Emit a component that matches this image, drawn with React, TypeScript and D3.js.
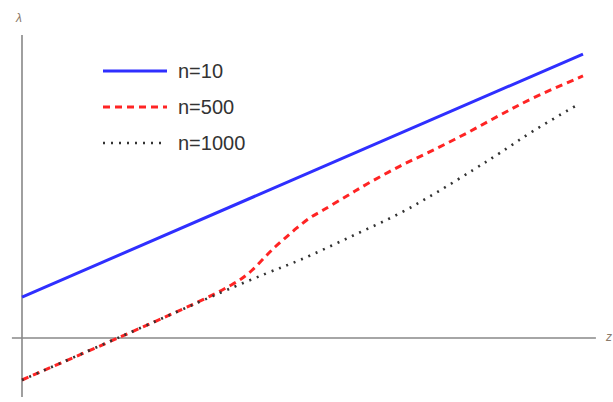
import React from "react";
import * as d3 from "d3";

const W = 613;
const H = 402;

// z values and λ values for each series
const blueZ = [0, 1.0];
const blueL = [0.146, 1.014];

const redZ = [0, 0.171, 0.287, 0.34, 0.37, 0.39, 0.41, 0.433, 0.451, 0.469, 0.49, 0.513, 0.537, 0.579, 0.615, 0.674, 0.733, 0.793, 0.852, 0.911, 1.0];
const redL = [-0.15, 0.0, 0.104, 0.154, 0.186, 0.21, 0.242, 0.289, 0.325, 0.357, 0.393, 0.429, 0.457, 0.507, 0.55, 0.614, 0.671, 0.732, 0.796, 0.857, 0.936];

const blackZ = [0, 0.175, 0.353, 0.437, 0.496, 0.585, 0.674, 0.74, 0.804, 0.852, 0.911, 0.993];
const blackL = [-0.15, 0.004, 0.161, 0.232, 0.279, 0.361, 0.446, 0.521, 0.6, 0.661, 0.739, 0.836];

const legendLabels = ["n=10", "n=500", "n=1000"];

type Series = { z: number[]; l: number[]; color: string; width: number; dash?: string };

const series: Series[] = [
  { z: blueZ, l: blueL, color: "#2f2fff", width: 3 },
  { z: redZ, l: redL, color: "#ff2424", width: 3, dash: "7,5" },
  { z: blackZ, l: blackL, color: "#333", width: 2.6, dash: "2,6" },
];

export default function App() {
  const x = d3.scaleLinear().domain([0, 1]).range([22, 583]);
  const y = d3.scaleLinear().domain([0, 1]).range([338, 58]);

  const line = d3
    .line<[number, number]>()
    .x((d) => x(d[0]))
    .y((d) => y(d[1]))
    .curve(d3.curveCatmullRom.alpha(0.5));

  const axisColor = "#888";

  return (
    <svg
      width={W}
      height={H}
      style={{ position: "absolute", left: 0, top: 0, background: "#fff" }}
      fontFamily="'Liberation Sans', Arial, sans-serif"
    >
      {/* axes */}
      <line x1={x(-0.018)} x2={x(1.023)} y1={y(0)} y2={y(0)} stroke={axisColor} strokeWidth={1.6} />
      <line x1={x(0)} x2={x(0)} y1={y(1.082)} y2={y(-0.211)} stroke={axisColor} strokeWidth={1.6} />
      <text x={19} y={22} fontSize={12} fontStyle="italic" fill="#8a7a6a" textAnchor="middle">
        λ
      </text>
      <text x={609} y={341} fontSize={12} fontStyle="italic" fill="#8a7a6a" textAnchor="middle">
        z
      </text>

      {/* curves */}
      {series.map((s, i) => (
        <path
          key={i}
          d={line(s.z.map((z, k) => [z, s.l[k]] as [number, number])) || ""}
          fill="none"
          stroke={s.color}
          strokeWidth={s.width}
          strokeDasharray={s.dash}
        />
      ))}

      {/* legend */}
      {series.map((s, i) => (
        <g key={"lg" + i} transform={`translate(0, ${71 + i * 36})`}>
          <line x1={103} x2={167} y1={0} y2={0} stroke={s.color} strokeWidth={s.width} strokeDasharray={s.dash} />
          <text x={178} y={7} fontSize={20} fill="#333">
            {legendLabels[i]}
          </text>
        </g>
      ))}
    </svg>
  );
}
